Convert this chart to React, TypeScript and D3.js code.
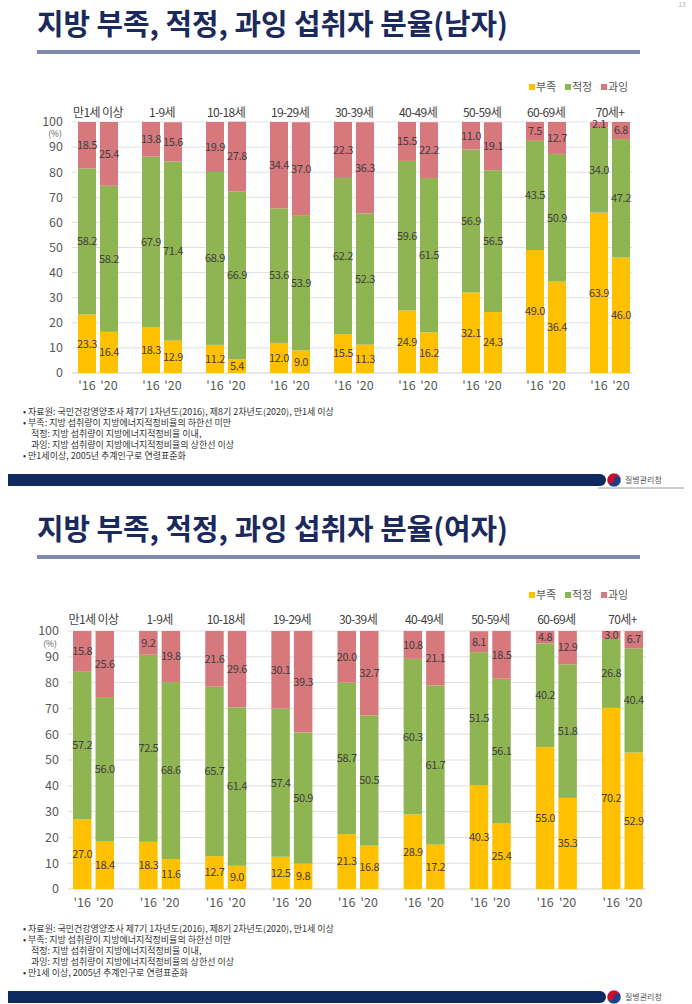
import React from "react";
import * as d3 from "d3";

const groups = ["만1세 이상", "1-9세", "10-18세", "19-29세", "30-39세", "40-49세", "50-59세", "60-69세", "70세+"];
const years = ["'16", "'20"];
const categories = ["부족", "적정", "과잉"];
const colors = ["#FFC000", "#8FB552", "#D6787C"];
const yTicks = [0, 10, 20, 30, 40, 50, 60, 70, 80, 90, 100];

// Male
const male16Low = [23.3, 18.3, 11.2, 12.0, 15.5, 24.9, 32.1, 49.0, 63.9];
const male16Ok = [58.2, 67.9, 68.9, 53.6, 62.2, 59.6, 56.9, 43.5, 34.0];
const male16High = [18.5, 13.8, 19.9, 34.4, 22.3, 15.5, 11.0, 7.5, 2.1];
const male20Low = [16.4, 12.9, 5.4, 9.0, 11.3, 16.2, 24.3, 36.4, 46.0];
const male20Ok = [58.2, 71.4, 66.9, 53.9, 52.3, 61.5, 56.5, 50.9, 47.2];
const male20High = [25.4, 15.6, 27.8, 37.0, 36.3, 22.2, 19.1, 12.7, 6.8];

// Female
const female16Low = [27.0, 18.3, 12.7, 12.5, 21.3, 28.9, 40.3, 55.0, 70.2];
const female16Ok = [57.2, 72.5, 65.7, 57.4, 58.7, 60.3, 51.5, 40.2, 26.8];
const female16High = [15.8, 9.2, 21.6, 30.1, 20.0, 10.8, 8.1, 4.8, 3.0];
const female20Low = [18.4, 11.6, 9.0, 9.8, 16.8, 17.2, 25.4, 35.3, 52.9];
const female20Ok = [56.0, 68.6, 61.4, 50.9, 50.5, 61.7, 56.1, 51.8, 40.4];
const female20High = [25.6, 19.8, 29.6, 39.3, 32.7, 21.1, 18.5, 12.9, 6.7];

const maleTitle = "지방 부족, 적정, 과잉 섭취자 분율(남자)";
const femaleTitle = "지방 부족, 적정, 과잉 섭취자 분율(여자)";
const notesCommon = [
  "• 자료원: 국민건강영양조사 제7기 1차년도(2016), 제8기 2차년도(2020), 만1세 이상",
  "• 부족: 지방 섭취량이 지방에너지적정비율의 하한선 미만",
  "적정: 지방 섭취량이 지방에너지적정비율 이내,",
  "과잉: 지방 섭취량이 지방에너지적정비율의 상한선 이상",
];
const maleNoteLast = "• 만1세이상, 2005년 추계인구로 연령표준화";
const femaleNoteLast = "• 만1세 이상, 2005년 추계인구로 연령표준화";

type Row = { group: string; year: string; [k: string]: any };

function buildRows(l16: number[], o16: number[], h16: number[], l20: number[], o20: number[], h20: number[]): Row[] {
  const rows: Row[] = [];
  groups.forEach((g, i) => {
    rows.push({ group: g, year: years[0], 부족: l16[i], 적정: o16[i], 과잉: h16[i] });
    rows.push({ group: g, year: years[1], 부족: l20[i], 적정: o20[i], 과잉: h20[i] });
  });
  return rows;
}

const FONT = "'Noto Sans CJK KR', 'Noto Sans', sans-serif";

type Layout = {
  titleY: number; ruleY: number; legendY: number; groupLabelY: number;
  yTop: number; yBottom: number; x0: number; x1: number; half: number;
  gridX0: number; gridX1: number; tickX: number; pctX: number; pctY: number;
  xLabelY: number; notesY: number; footerY: number;
};

function Logo({ cx, cy }: { cx: number; cy: number }) {
  const r = 7;
  return (
    <g>
      <path d={`M${cx - r},${cy} A${r},${r} 0 0 1 ${cx + r},${cy} Z`} fill="#c8102e" />
      <path d={`M${cx - r},${cy} A${r},${r} 0 0 0 ${cx + r},${cy} Z`} fill="#1d3f8a" />
      <circle cx={cx - r / 2} cy={cy} r={r / 2} fill="#c8102e" />
      <circle cx={cx + r / 2} cy={cy} r={r / 2} fill="#1d3f8a" />
      <circle cx={cx} cy={cy} r={r} fill="none" stroke="#ffffff" strokeWidth={0.6} />
    </g>
  );
}

function Panel({ title, rows, L, lastNote }: { title: string; rows: Row[]; L: Layout; lastNote: string }) {
  const y = d3.scaleLinear().domain([0, 100]).range([L.yBottom, L.yTop]);
  const gx = d3.scalePoint<string>().domain(groups).range([L.x0, L.x1]);
  const yx = d3.scaleBand<string>().domain(years).range([-L.half, L.half]).paddingInner(0.18);
  const stack = d3.stack<Row>().keys(categories);
  const series = stack(rows);
  const bw = yx.bandwidth();

  return (
    <g>
      <text x={37} y={L.titleY} fontFamily={FONT} fontWeight={700} fontSize={29} fill="#1b2a5c"
        textLength={471} lengthAdjust="spacingAndGlyphs">{title}</text>
      <rect x={37} y={L.ruleY - 2} width={603} height={4} fill="#7d8cab" />

      {/* legend */}
      {categories.map((c, i) => (
        <g key={c} transform={`translate(${529 + i * 36},${L.legendY})`}>
          <rect x={0} y={-3} width={6} height={6} fill={colors[i]} />
          <text x={7} y={0} dy="0.35em" fontFamily={FONT} fontSize={11} fill="#595959">{c}</text>
        </g>
      ))}

      {/* grid */}
      {yTicks.map((t) => (
        <g key={t}>
          <line x1={L.gridX0} x2={L.gridX1} y1={y(t)} y2={y(t)} stroke={t === 0 ? "#cfcfcf" : "#e0e0e0"} strokeWidth={1} />
          <text x={L.tickX} y={y(t)} dy="0.35em" textAnchor="end" fontFamily={FONT} fontSize={12.5} fill="#595959">{t}</text>
        </g>
      ))}
      <text x={L.pctX} y={L.pctY} dy="0.35em" textAnchor="middle" fontFamily={FONT} fontSize={8.5} fill="#595959">(%)</text>

      {/* group labels */}
      {groups.map((g) => (
        <text key={g} x={gx(g)} y={L.groupLabelY} dy="0.35em" textAnchor="middle" fontFamily={FONT} fontSize={12}
          letterSpacing={-0.6} fill="#404040">{g}</text>
      ))}

      {/* bars */}
      {series.map((s, si) => (
        <g key={s.key}>
          {s.map((d, di) => {
            const row = d.data as Row;
            const x = (gx(row.group) as number) + (yx(row.year) as number);
            return (
              <rect key={di} x={x} y={y(d[1])} width={bw} height={Math.max(0, y(d[0]) - y(d[1]))} fill={colors[si]} />
            );
          })}
        </g>
      ))}

      {/* value labels */}
      {series.map((s) => (
        <g key={"l" + s.key}>
          {s.map((d, di) => {
            const row = d.data as Row;
            const x = (gx(row.group) as number) + (yx(row.year) as number) + bw / 2;
            const v = row[s.key] as number;
            return (
              <text key={di} x={x} y={y((d[0] + d[1]) / 2)} dy="0.35em" textAnchor="middle" fontFamily={FONT}
                fontSize={11} letterSpacing={-0.4} fill="#3f3f3f">{v.toFixed(1)}</text>
            );
          })}
        </g>
      ))}

      {/* x labels */}
      {groups.map((g) =>
        years.map((yr) => (
          <text key={g + yr} x={(gx(g) as number) + (yx(yr) as number) + bw / 2} y={L.xLabelY} dy="0.35em"
            textAnchor="middle" fontFamily={FONT} fontSize={12.5} fill="#595959">{yr}</text>
        ))
      )}

      {/* notes */}
      {[...notesCommon, lastNote].map((n, i) => (
        <text key={i} x={i === 2 || i === 3 ? 31 : 23} y={L.notesY + i * 11} dy="0.35em" fontFamily={FONT}
          fontSize={9} fill="#333333">{n}</text>
      ))}

      {/* footer */}
      <path d={`M8,${L.footerY} H600 A6,6 0 0 1 600,${L.footerY + 12} H8 Z`} fill="#0f2a5e" />
      <line x1={598} x2={684} y1={L.footerY + 14} y2={L.footerY + 14} stroke="#9a9a9a" strokeWidth={1} />
      <Logo cx={614} cy={L.footerY + 6} />
      <text x={625} y={L.footerY + 6} dy="0.35em" fontFamily={FONT} fontSize={8} fill="#555555">질병관리청</text>
    </g>
  );
}

const maleLayout: Layout = {
  titleY: 35, ruleY: 52, legendY: 87, groupLabelY: 113, yTop: 122, yBottom: 373,
  x0: 98, x1: 610, half: 20, gridX0: 72, gridX1: 632, tickX: 63, pctX: 55, pctY: 134.5,
  xLabelY: 386, notesY: 412, footerY: 474,
};
const femaleLayout: Layout = {
  titleY: 540, ruleY: 557, legendY: 595, groupLabelY: 620, yTop: 631, yBottom: 889,
  x0: 93.5, x1: 622.5, half: 20.5, gridX0: 68, gridX1: 646, tickX: 59, pctX: 50, pctY: 644,
  xLabelY: 903, notesY: 929, footerY: 991,
};

export default function App() {
  const maleRows = buildRows(male16Low, male16Ok, male16High, male20Low, male20Ok, male20High);
  const femaleRows = buildRows(female16Low, female16Ok, female16High, female20Low, female20Ok, female20High);
  return (
    <svg width={692} height={1004} viewBox="0 0 692 1004"
      style={{ position: "absolute", left: 0, top: 0, background: "#ffffff" }}>
      <rect width={692} height={1004} fill="#ffffff" />
      <text x={686} y={5} dy="0.35em" textAnchor="end" fontFamily={FONT} fontSize={7} fill="#b0b0b0">13</text>
      <Panel title={maleTitle} rows={maleRows} L={maleLayout} lastNote={maleNoteLast} />
      <Panel title={femaleTitle} rows={femaleRows} L={femaleLayout} lastNote={femaleNoteLast} />
    </svg>
  );
}
